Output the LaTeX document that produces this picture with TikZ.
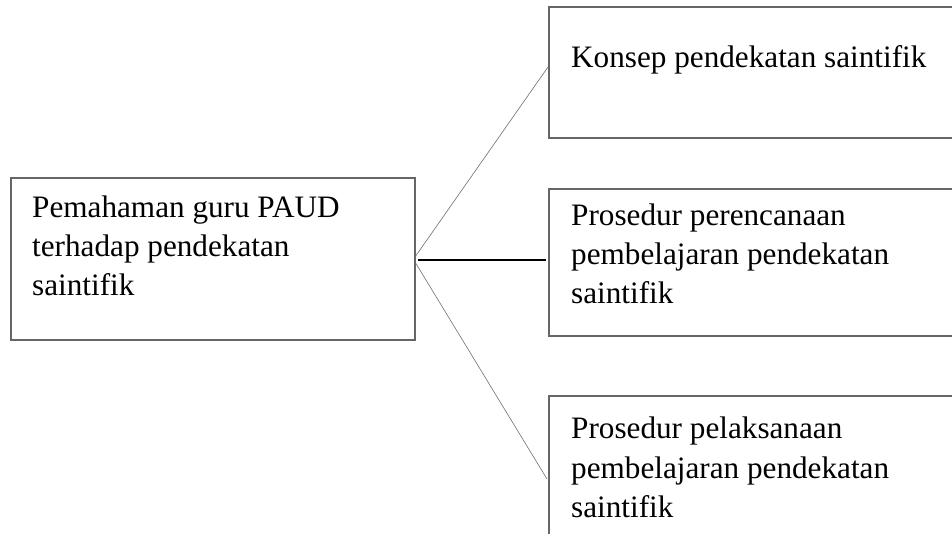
\documentclass[tikz,border=0pt]{standalone}
\usepackage{fontspec}
\setmainfont{Liberation Serif}
\usetikzlibrary{calc}
\definecolor{boxgray}{HTML}{666666}
\definecolor{linegray}{HTML}{707070}
\begin{document}
\begin{tikzpicture}[x=1pt,y=-1pt,
  box/.style={draw=boxgray, line width=1.1pt, inner sep=0pt, outer sep=0pt},
  txt/.style={anchor=base west, inner sep=0pt, font=\fontsize{31.2}{39}\selectfont},
  thinline/.style={draw=linegray, line width=0.6pt},
  thickline/.style={draw=black, line width=2pt}]
\useasboundingbox (0,0) rectangle (952,533);
\clip (0,0) rectangle (952,533);
% boxes
\node[box, minimum width=404pt, minimum height=162pt] (L) at (213,259) {};
\node[box, minimum width=420pt, minimum height=131pt] (T) at (759,72.5) {};
\node[box, minimum width=420pt, minimum height=147pt] (M) at (759,262.5) {};
\node[box, minimum width=420pt, minimum height=180pt] (B) at (759,486) {};
% texts
\node[txt] (l1) at (32,217) {Pemahaman guru PAUD};
\node[txt] (l2) at (32,256) {terhadap pendekatan};
\node[txt] (l3) at (32,295) {saintifik};
\node[txt] (t1) at (571,67) {Konsep pendekatan saintifik};
\node[txt] (m1) at (571,225) {Prosedur perencanaan};
\node[txt] (m2) at (571,264) {pembelajaran pendekatan};
\node[txt] (m3) at (571,303) {saintifik};
\node[txt] (b1) at (571,438) {Prosedur pelaksanaan};
\node[txt] (b2) at (571,478) {pembelajaran pendekatan};
\node[txt] (b3) at (571,517) {saintifik};
% connector end points
\coordinate (a1) at ([yshift=2pt]L.east);
\coordinate (a3) at ([yshift=-3pt]L.east);
\coordinate (a2) at ([xshift=3pt,yshift=-1pt]L.east);
\coordinate (e1) at ($(T.north west)+(-1,60)$);
\coordinate (e2) at ($(M.west)+(-3,-2.5)$);
\coordinate (e3) at ($(B.north west)+(-2,83)$);
\draw[thinline] (a1) -- (e1);
\draw[thickline] (a2) -- (e2);
\draw[thinline] (a3) -- (e3);
\end{tikzpicture}
\end{document}
